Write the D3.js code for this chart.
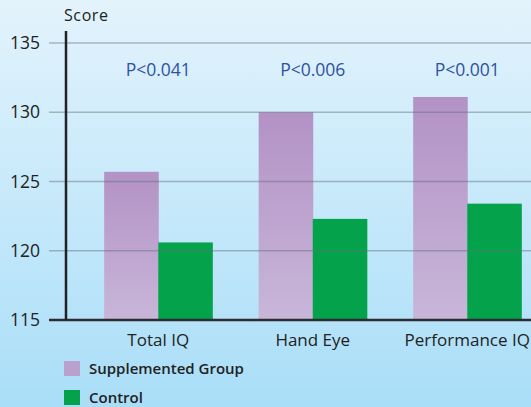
<!DOCTYPE html>
<html>
<head>
<meta charset="utf-8">
<script src="https://cdn.jsdelivr.net/npm/d3@7"></script>
<style>
  body { margin: 0; }
  svg { display: block; font-family: "Open Sans", "Noto Sans", sans-serif; }
</style>
</head>
<body>
<div id="chart"></div>
<script>
var categories = ['Total IQ', 'Hand Eye', 'Performance IQ'];
var supplemented = [125.7, 130.0, 131.1];
var control = [120.6, 122.3, 123.4];
var pLabels = ['P<0.041', 'P<0.006', 'P<0.001'];
var yTicks = [115, 120, 125, 130, 135];
var seriesNames = ['Supplemented Group', 'Control'];

var width = 531, height = 407;

var svg = d3.select('#chart').append('svg')
    .attr('width', width)
    .attr('height', height);

var defs = svg.append('defs');
var bg = defs.append('linearGradient').attr('id', 'bg')
    .attr('x1', 0).attr('y1', 0).attr('x2', 0).attr('y2', 1);
bg.append('stop').attr('offset', '0%').attr('stop-color', '#e3f3fc');
bg.append('stop').attr('offset', '100%').attr('stop-color', '#a9def8');

var purple = defs.append('linearGradient').attr('id', 'purple')
    .attr('x1', 0).attr('y1', 0).attr('x2', 0).attr('y2', 1);
purple.append('stop').attr('offset', '0%').attr('stop-color', '#b392c5');
purple.append('stop').attr('offset', '100%').attr('stop-color', '#c8b6d9');

svg.append('rect').attr('width', width).attr('height', height).attr('fill', 'url(#bg)');

var x = d3.scaleBand().domain(categories).range([81, 544.5])
    .paddingInner(0.3).paddingOuter(0.15);
var xs = d3.scaleBand().domain(seriesNames).range([0, x.bandwidth()]);
var y = d3.scaleLinear().domain([115, 135]).range([320, 43]);

var rows = categories.map((c, i) => ({cat: c, values: [supplemented[i], control[i]]}));

// bars
var groups = svg.append('g').selectAll('g').data(rows).join('g')
    .attr('transform', d => 'translate(' + x(d.cat) + ',0)');
groups.selectAll('rect').data(d => d.values.map((v, i) => ({k: seriesNames[i], v: v})))
    .join('rect')
    .attr('x', d => xs(d.k))
    .attr('width', xs.bandwidth() + 0.5)
    .attr('y', d => y(d.v))
    .attr('height', d => y(115) - y(d.v))
    .attr('fill', d => d.k == 'Control' ? '#04a34b' : 'url(#purple)');

// grid lines over the bars
svg.append('g').selectAll('line').data(yTicks.slice(1)).join('line')
    .attr('x1', 49).attr('x2', width)
    .attr('y1', d => y(d)).attr('y2', d => y(d))
    .attr('stroke', '#5f6f7a').attr('stroke-opacity', 0.45).attr('stroke-width', 1.5);

// baseline
svg.append('line').attr('x1', 49).attr('x2', width)
    .attr('y1', y(115)).attr('y2', y(115))
    .attr('stroke', '#2b2b30').attr('stroke-width', 2.5);

// y axis line
svg.append('line').attr('x1', 66).attr('x2', 66)
    .attr('y1', 31).attr('y2', y(115))
    .attr('stroke', '#222226').attr('stroke-width', 2.5);

// y tick labels
svg.append('g').selectAll('text').data(yTicks).join('text')
    .attr('x', 40).attr('y', d => y(d) + 6)
    .attr('text-anchor', 'end')
    .attr('font-size', 17.5)
    .attr('fill', '#222')
    .text(d => d);

svg.append('text').attr('x', 64).attr('y', 21)
    .attr('font-size', 16).attr('letter-spacing', 0.6).attr('fill', '#222').text('Score');

// p values
svg.append('g').selectAll('text').data(rows).join('text')
    .attr('x', d => x(d.cat) + x.bandwidth() / 2)
    .attr('y', 76)
    .attr('text-anchor', 'middle')
    .attr('font-size', 17.5)
    .attr('fill', '#2d52a3')
    .text((d, i) => pLabels[i]);

// category labels
svg.append('g').selectAll('text').data(categories).join('text')
    .attr('x', d => x(d) + x.bandwidth() / 2)
    .attr('y', 346)
    .attr('text-anchor', 'middle')
    .attr('font-size', 17)
    .attr('fill', '#222')
    .text(d => d);

// legend
var legend = svg.append('g').selectAll('g').data(seriesNames).join('g')
    .attr('transform', (d, i) => 'translate(64,' + (361 + i * 29) + ')');
legend.append('rect').attr('width', 16).attr('height', 15)
    .attr('fill', (d, i) => i == 0 ? '#baa0cc' : '#04a34b');
legend.append('text').attr('x', 25).attr('y', 13)
    .attr('font-size', 15).attr('font-weight', 600).attr('fill', '#222')
    .text(d => d);
</script>
</body>
</html>
